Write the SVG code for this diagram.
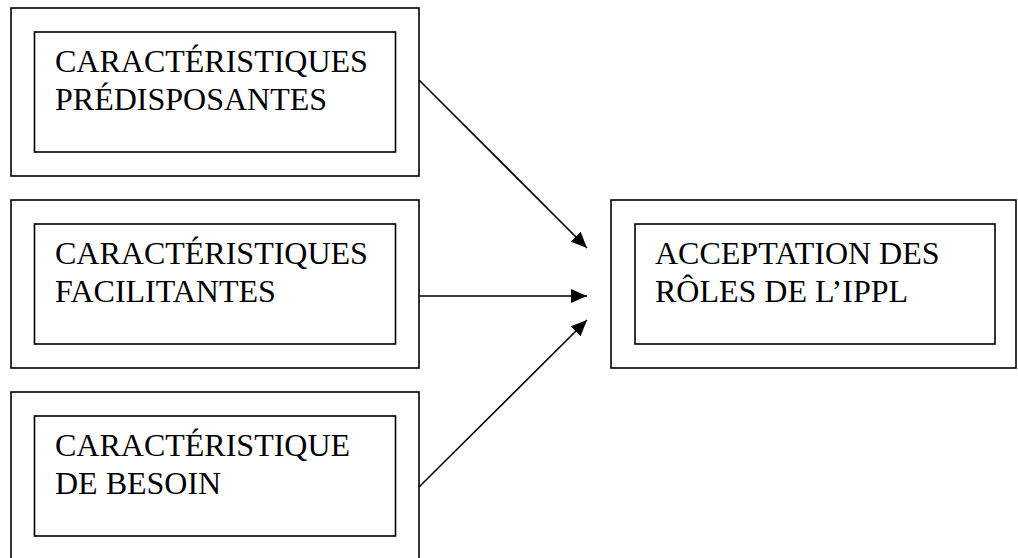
<svg xmlns="http://www.w3.org/2000/svg" width="1018" height="558" viewBox="0 0 1018 558">
<style>
.box{fill:none;stroke:#000;stroke-width:1.6}
.t{font-family:"Liberation Serif","Times New Roman",serif;font-size:32px;fill:#000}
.c{fill:none;stroke:#000;stroke-width:1.6}
</style>
<defs>
<marker id="ah" viewBox="0 0 10 10" refX="10" refY="5" markerWidth="10" markerHeight="10" markerUnits="userSpaceOnUse" orient="auto">
<path d="M0,0 L10,5 L0,10 Z" fill="#000"/>
</marker>
<marker id="a" viewBox="0 0 16 14" refX="16" refY="7" markerWidth="16" markerHeight="14" markerUnits="userSpaceOnUse" orient="auto">
<path d="M0,0 L16,7 L0,14 Z" fill="#000"/>
</marker>
</defs>
<rect width="1018" height="558" fill="#fff"/>
<g id="n1">
<rect class="box" x="11" y="8" width="408" height="168"/>
<rect class="box" x="34.5" y="32" width="361" height="120"/>
<text class="t" x="55" y="72">CARACTÉRISTIQUES</text>
<text class="t" x="55" y="110">PRÉDISPOSANTES</text>
</g>
<g id="n2">
<rect class="box" x="11" y="200" width="408" height="168"/>
<rect class="box" x="34.5" y="224" width="361" height="120"/>
<text class="t" x="55" y="264">CARACTÉRISTIQUES</text>
<text class="t" x="55" y="302">FACILITANTES</text>
</g>
<g id="n3">
<rect class="box" x="11" y="392" width="408" height="175"/>
<rect class="box" x="34.5" y="416" width="361" height="120"/>
<text class="t" x="55" y="456">CARACTÉRISTIQUE</text>
<text class="t" x="55" y="494">DE BESOIN</text>
</g>
<g id="n4">
<rect class="box" x="611" y="200" width="405" height="168"/>
<rect class="box" x="635" y="224" width="360" height="120"/>
<text class="t" x="655" y="264">ACCEPTATION DES</text>
<text class="t" x="655" y="302">RÔLES DE L’IPPL</text>
</g>
<g id="connectors">
<line class="c" x1="419" y1="80" x2="587" y2="248" marker-end="url(#a)"/>
<line class="c" x1="419" y1="296" x2="587" y2="296" marker-end="url(#a)"/>
<line class="c" x1="419" y1="487" x2="587" y2="320" marker-end="url(#a)"/>
</g>
</svg>
